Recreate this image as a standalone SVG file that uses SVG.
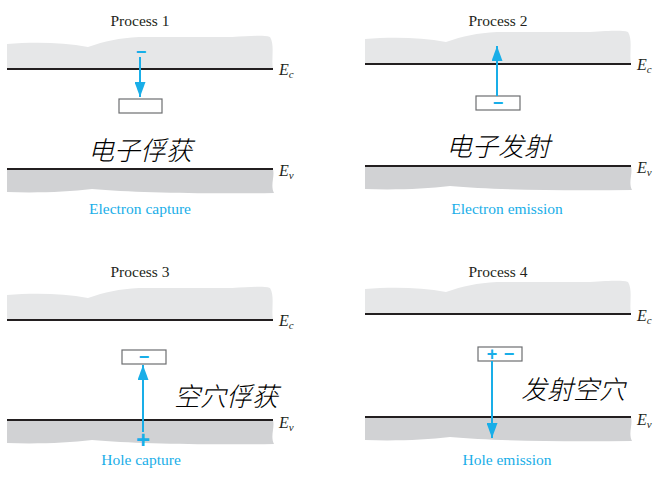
<svg xmlns="http://www.w3.org/2000/svg" xmlns:xlink="http://www.w3.org/1999/xlink" width="663" height="478" viewBox="0 0 663 478">
<style>
.title{font-family:"Liberation Serif",serif;font-size:15.5px;fill:#231f20;text-anchor:middle}
.cap{font-family:"Liberation Serif",serif;font-size:15.5px;fill:#19aee8;text-anchor:middle}
.lvl{font-family:"Liberation Serif",serif;font-style:italic;font-size:16px;fill:#231f20}
.sub{font-size:11px}
.zh{font-family:"Noto Sans CJK SC","Noto Sans CJK JP",sans-serif;font-style:italic;font-weight:300;font-size:26px;fill:#000}
.sign{font-family:"Liberation Sans",sans-serif;font-weight:bold;font-size:18px;fill:#19aee8;text-anchor:middle}
.plus{font-size:24px}
.line{stroke:#231f20;stroke-width:2}
.cb{fill:#e6e7e8}
.vb{fill:#d1d2d4}
.box{fill:#fff;stroke:#6d6e71;stroke-width:1.2}
.arr{stroke:#19aee8;stroke-width:2;fill:none;marker-end:url(#ah)}
</style>
<defs>
<marker id="ah" viewBox="0 0 15 11" refX="15" refY="5.5" markerWidth="15" markerHeight="11" markerUnits="userSpaceOnUse" orient="auto">
<path d="M0,0 L15,5.5 L0,11 Z" fill="#19aee8"/>
</marker>
<path id="cbp" d="M0,-25 C25,-27 55,-27 81,-22 C98,-28 112,-31 132,-32 L225,-32 C245,-33 256,-34 263,-32 C268,-24 264,-10 266,0 L0,0 Z"/>
<path id="vbp" d="M0,0 L266,0 C268,8 263,16 267,24 C200,25 130,24 85,20 C60,23 30,24 0,23 Z"/>
</defs>

<g id="process1">
<text class="title" x="140" y="26">Process 1</text>
<use href="#cbp" class="cb" transform="translate(7,69)"/>
<line class="line" x1="7" y1="69" x2="273" y2="69"/>
<text class="lvl" x="279" y="75">E<tspan class="sub" dy="3">c</tspan></text>
<use href="#vbp" class="vb" transform="translate(7,169)"/>
<line class="line" x1="7" y1="169" x2="273" y2="169"/>
<text class="lvl" x="279" y="176">E<tspan class="sub" dy="3">v</tspan></text>
<text class="sign" x="141" y="58">−</text>
<rect class="box" x="119" y="99" width="43" height="14"/>
<text class="zh" x="88" y="160">电子俘获</text>
<text class="cap" x="140" y="214">Electron capture</text>
</g>

<g id="process2">
<text class="title" x="498" y="26">Process 2</text>
<use href="#cbp" class="cb" transform="translate(365,64)"/>
<line class="line" x1="365" y1="64" x2="631" y2="64"/>
<text class="lvl" x="637" y="70">E<tspan class="sub" dy="3">c</tspan></text>
<use href="#vbp" class="vb" transform="translate(365,166)"/>
<line class="line" x1="365" y1="166" x2="631" y2="166"/>
<text class="lvl" x="637" y="173">E<tspan class="sub" dy="3">v</tspan></text>
<rect class="box" x="476" y="96" width="44" height="14"/>
<text class="sign" x="498" y="109">−</text>
<text class="zh" x="446" y="156">电子发射</text>
<text class="cap" x="507" y="214">Electron emission</text>
</g>

<g id="process3">
<text class="title" x="140" y="277">Process 3</text>
<use href="#cbp" class="cb" transform="translate(7,320)"/>
<line class="line" x1="7" y1="320" x2="273" y2="320"/>
<text class="lvl" x="279" y="326">E<tspan class="sub" dy="3">c</tspan></text>
<use href="#vbp" class="vb" transform="translate(7,420)"/>
<line class="line" x1="7" y1="420" x2="273" y2="420"/>
<text class="lvl" x="279" y="428">E<tspan class="sub" dy="3">v</tspan></text>
<rect class="box" x="122" y="350" width="44" height="14"/>
<text class="sign" x="144" y="363">−</text>
<text class="sign plus" x="143" y="448">+</text>
<text class="zh" x="174" y="406">空穴俘获</text>
<text class="cap" x="141" y="465">Hole capture</text>
</g>

<g id="process4">
<text class="title" x="498" y="277">Process 4</text>
<use href="#cbp" class="cb" transform="translate(365,314)"/>
<line class="line" x1="365" y1="314" x2="631" y2="314"/>
<text class="lvl" x="637" y="321">E<tspan class="sub" dy="3">c</tspan></text>
<use href="#vbp" class="vb" transform="translate(365,417)"/>
<line class="line" x1="365" y1="417" x2="631" y2="417"/>
<text class="lvl" x="637" y="425">E<tspan class="sub" dy="3">v</tspan></text>
<rect class="box" x="478" y="347" width="44" height="14"/>
<text class="sign" x="492" y="360">+</text>
<text class="sign" x="509" y="360">−</text>
<text class="zh" x="521" y="399">发射空穴</text>
<text class="cap" x="507" y="465">Hole emission</text>
</g>

<g id="connectors">
<line class="arr" x1="140" y1="57" x2="140" y2="97"/>
<line class="arr" x1="497" y1="96" x2="497" y2="46"/>
<line class="arr" x1="143" y1="432" x2="143" y2="365"/>
<line class="arr" x1="492" y1="361" x2="492" y2="438"/>
</g>
</svg>
